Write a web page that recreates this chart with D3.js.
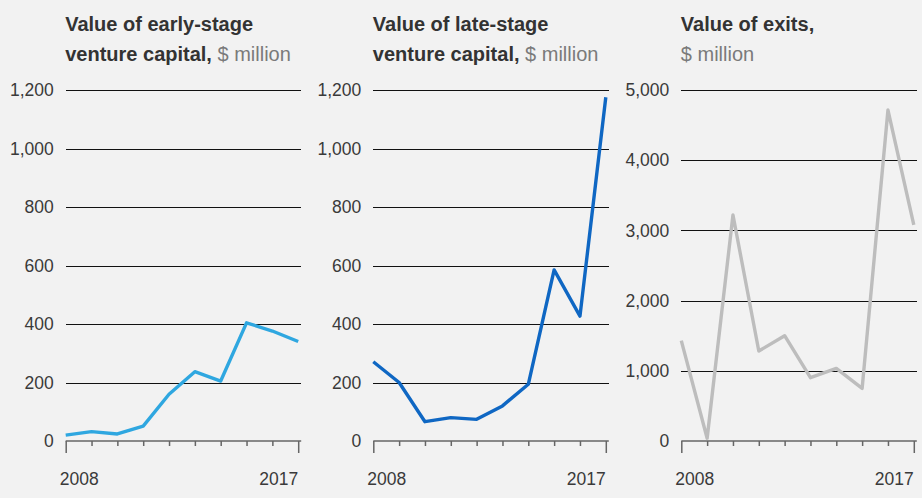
<!DOCTYPE html>
<html>
<head>
<meta charset="utf-8">
<script src="https://cdn.jsdelivr.net/npm/d3@7"></script>
<style>
  body { margin: 0; background: #f2f2f2; }
  svg { display: block; font-family: "Liberation Sans", Arial, sans-serif; }
  .grid line { stroke: #111; stroke-width: 1; shape-rendering: crispEdges; }
  .grid text { fill: #3a3a3a; font-size: 17.5px; }
  .xaxis line, .xaxis path { stroke: #666; stroke-width: 1.5; }
</style>
</head>
<body>
<div id="chart"></div>
<script>
 //years on the x axis
 var years = [2008, 2009, 2010, 2011, 2012, 2013, 2014, 2015, 2016, 2017];
 var yearLabels = [2008, 2017];

 //series, $ million
 var earlyStage = [20, 32, 24, 51, 160, 237, 205, 404, 376, 340];
 var lateStage = [271, 200, 66, 80, 74, 120, 194, 585, 427, 1175];
 var exits = [1429, 40, 3219, 1282, 1500, 902, 1035, 750, 4715, 3077];

 //y ticks
 var vcTicks = [0, 200, 400, 600, 800, 1000, 1200];
 var exitTicks = [0, 1000, 2000, 3000, 4000, 5000];

 //titles: bold part, then grey unit
 var titles = [
     ["Value of early-stage", "venture capital,", " $ million"],
     ["Value of late-stage", "venture capital,", " $ million"],
     ["Value of exits,", "", "$ million"]
 ];

 var panels = [
     { data: earlyStage, ticks: vcTicks, max: 1200, color: "#2fa7e0", left: 65.7 },
     { data: lateStage, ticks: vcTicks, max: 1200, color: "#0f67c3", left: 373.3 },
     { data: exits, ticks: exitTicks, max: 5000, color: "#bdbdbd", left: 681.3 }
 ];

 //plot box (window.top is taken, so other names)
 var plotWidth = 232.5,
     plotTop = 90,
     plotBottom = 441;

 var svg = d3.select("#chart")
     .append("svg")
     .attr("width", 922)
     .attr("height", 498);

 panels.forEach(function (p, i) {
     var g = svg.append("g")
         .attr("transform", "translate(" + p.left + ",0)");

     //title
     g.append("text")
         .attr("x", -0.5)
         .attr("y", 31)
         .attr("fill", "#333")
         .attr("font-size", "20px")
         .attr("font-weight", "bold")
         .text(titles[i][0]);
     var t2 = g.append("text")
         .attr("x", -0.5)
         .attr("y", 61)
         .attr("font-size", "20px");
     t2.append("tspan")
         .attr("fill", "#333")
         .attr("font-weight", "bold")
         .text(titles[i][1]);
     t2.append("tspan")
         .attr("fill", "#7a7a7a")
         .text(titles[i][2]);

     var xScale = d3.scaleLinear()
         .domain([years[0], years[years.length - 1]])
         .range([0, plotWidth]);

     var yScale = d3.scaleLinear()
         .domain([0, p.max])
         .range([plotBottom, plotTop]);

     //gridlines + y labels
     var yAxis = d3.axisLeft(yScale)
         .tickValues(p.ticks)
         .tickSizeInner(-(plotWidth + 3))
         .tickSizeOuter(0)
         .tickPadding(12)
         .tickFormat(d3.format(","));

     var gy = g.append("g")
         .attr("class", "grid")
         .call(yAxis);
     gy.select(".domain").remove();
     //zero line is drawn by the x axis
     gy.selectAll(".tick line")
         .filter(function (d) { return d == 0; })
         .remove();

     //x axis
     var xAxis = d3.axisBottom(xScale)
         .tickValues(years)
         .tickSizeOuter(0)
         .tickFormat("");

     var gx = g.append("g")
         .attr("class", "xaxis")
         .attr("transform", "translate(0," + plotBottom + ")")
         .call(xAxis);
     gx.select(".domain").attr("d", "M0,0H" + (plotWidth + 3));
     gx.selectAll(".tick line")
         .attr("y2", function (d) {
             return (d == years[0] || d == years[years.length - 1]) ? 12 : 5;
         });

     //year labels
     g.selectAll(".year")
         .data(yearLabels)
         .enter()
         .append("text")
         .attr("class", "year")
         .attr("x", function (d, j) {
             return j == 0 ? xScale(d) - 6 : xScale(d);
         })
         .attr("y", 485)
         .attr("text-anchor", function (d, j) { return j == 0 ? "start" : "end"; })
         .attr("fill", "#3a3a3a")
         .attr("font-size", "17.5px")
         .text(function (d) { return d; });

     //line
     var line = d3.line()
         .x(function (d, j) { return xScale(years[j]); })
         .y(function (d) { return yScale(d); });

     g.append("path")
         .datum(p.data)
         .attr("fill", "none")
         .attr("stroke", p.color)
         .attr("stroke-width", 3.4)
         .attr("stroke-linejoin", "round")
         .attr("d", line);
 });
</script>
</body>
</html>
